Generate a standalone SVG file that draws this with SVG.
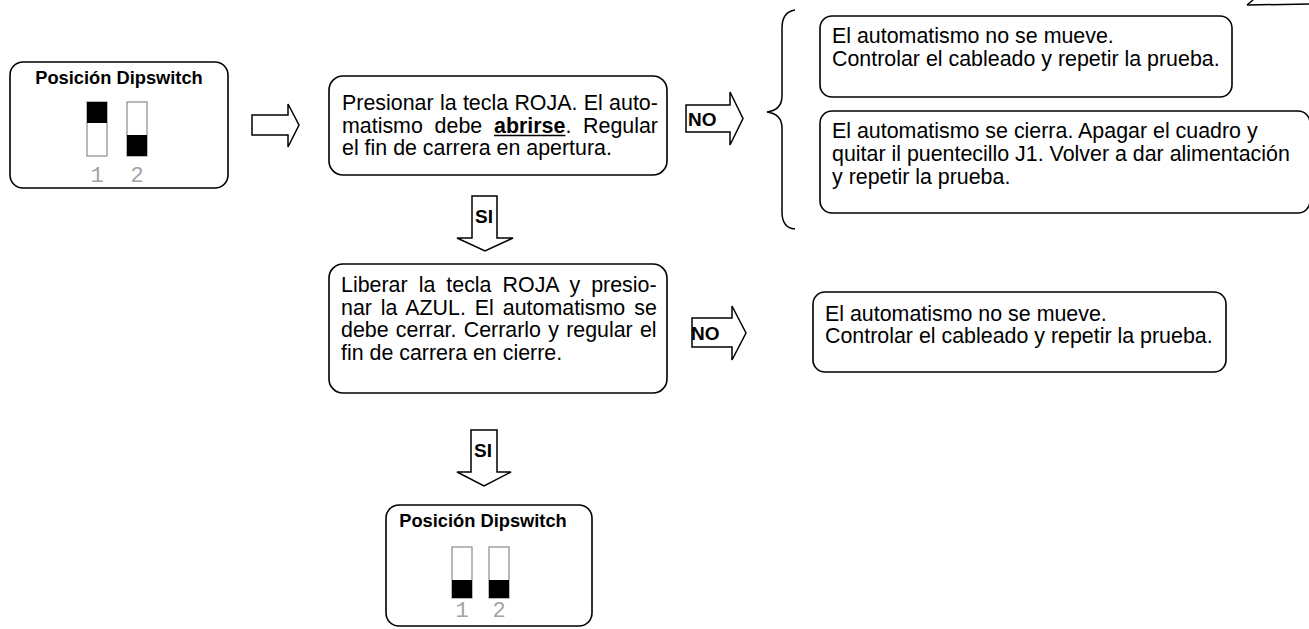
<svg xmlns="http://www.w3.org/2000/svg" width="1309" height="629" viewBox="0 0 1309 629">
  <style>
    .box { fill: #ffffff; stroke: #000000; stroke-width: 1.6; }
    .arrow { fill: #ffffff; stroke: #000000; stroke-width: 1.5; stroke-linejoin: miter; }
    .brace { fill: none; stroke: #000000; stroke-width: 1.5; }
    .txt { font-family: "Liberation Sans", Arial, sans-serif; font-size: 21.4px; fill: #000000; }
    .bold { font-weight: bold; }
    .title { font-family: "Liberation Sans", Arial, sans-serif; font-size: 18.3px; font-weight: bold; fill: #000000; text-anchor: middle; }
    .tag { font-family: "Liberation Sans", Arial, sans-serif; font-size: 19px; font-weight: bold; fill: #000000; }
    .sw { fill: #ffffff; stroke: #8a8a8a; stroke-width: 1.2; }
    .knob { fill: #000000; }
    .num { font-family: "Liberation Mono", "DejaVu Sans Mono", monospace; font-size: 22px; fill: #a3a3a3; text-anchor: middle; }
  </style>

  <!-- dipswitch setting at start: 1 up, 2 down -->
  <g id="dip-start">
    <rect class="box" x="10" y="62" width="218" height="126" rx="13"/>
    <text class="title" x="119" y="84">Posición Dipswitch</text>
    <rect class="sw" x="87" y="102" width="20" height="54"/>
    <rect class="knob" x="87" y="102" width="20" height="21"/>
    <rect class="sw" x="127" y="102" width="20" height="54"/>
    <rect class="knob" x="127" y="135" width="20" height="21"/>
    <text class="num" x="97" y="182">1</text>
    <text class="num" x="137" y="182">2</text>
  </g>

  <!-- step 1: open -->
  <g id="step-open">
    <rect class="box" x="329" y="76" width="338" height="99" rx="14"/>
    <text class="txt" x="342" y="110" word-spacing="0.4">Presionar la tecla ROJA. El auto-</text>
    <text class="txt" x="342" y="132.5">matismo</text>
    <text class="txt" x="434.6" y="132.5">debe</text>
    <text class="txt bold" x="494" y="132.5">abrirse</text>
    <text class="txt" x="565.4" y="132.5">.</text>
    <text class="txt" x="658" y="132.5" text-anchor="end">Regular</text>
    <line x1="494" y1="135.5" x2="565.4" y2="135.5" stroke="#000000" stroke-width="1.6"/>
    <text class="txt" x="342" y="155">el fin de carrera en apertura.</text>
  </g>

  <!-- failure cases after step 1 -->
  <g id="fail-open-still">
    <rect class="box" x="820" y="16" width="412" height="81" rx="12"/>
    <text class="txt" x="832" y="43">El automatismo no se mueve.</text>
    <text class="txt" x="832" y="66">Controlar el cableado y repetir la prueba.</text>
  </g>

  <g id="fail-open-closes">
    <rect class="box" x="820" y="111" width="490" height="102" rx="12"/>
    <text class="txt" x="832" y="138">El automatismo se cierra. Apagar el cuadro y</text>
    <text class="txt" x="832" y="161">quitar il puentecillo J1. Volver a dar alimentación</text>
    <text class="txt" x="832" y="184">y repetir la prueba.</text>
  </g>

  <!-- step 2: close -->
  <g id="step-close">
    <rect class="box" x="329" y="264" width="338" height="129" rx="14"/>
    <text class="txt" x="341" y="292" word-spacing="5.1">Liberar la tecla ROJA y presio-</text>
    <text class="txt" x="341" y="314.5" word-spacing="3">nar la AZUL. El automatismo se</text>
    <text class="txt" x="341" y="337" word-spacing="1.3">debe cerrar. Cerrarlo y regular el</text>
    <text class="txt" x="341" y="359.5">fin de carrera en cierre.</text>
  </g>

  <g id="fail-close-still">
    <rect class="box" x="813" y="292" width="413" height="80" rx="12"/>
    <text class="txt" x="825" y="321">El automatismo no se mueve.</text>
    <text class="txt" x="825" y="343">Controlar el cableado y repetir la prueba.</text>
  </g>

  <!-- final dipswitch setting: both down -->
  <g id="dip-end">
    <rect class="box" x="386" y="505" width="206" height="121" rx="13"/>
    <text class="title" x="483" y="527">Posición Dipswitch</text>
    <rect class="sw" x="452" y="547" width="20" height="51"/>
    <rect class="knob" x="452" y="580" width="20" height="18"/>
    <rect class="sw" x="489" y="547" width="20" height="51"/>
    <rect class="knob" x="489" y="580" width="20" height="18"/>
    <text class="num" x="462" y="617">1</text>
    <text class="num" x="499" y="617">2</text>
  </g>

  <!-- block arrows and brace -->
  <g id="connectors">
    <path class="arrow" d="M252,115 H288 V104 L299,125 L288,147 V135 H252 Z"/>

    <path class="arrow" d="M686,105 H730 V92 L743,118.5 L730,145 V132 H686 Z"/>
    <text class="tag" x="688" y="126">NO</text>

    <path class="arrow" d="M472,196 H497 V238 H513 L485,251 L457,238 H472 Z"/>
    <text class="tag" x="475" y="223">SI</text>

    <path class="arrow" d="M692,318 H732 V306 L746,333 L732,360 V347 H692 Z"/>
    <text class="tag" x="691" y="340">NO</text>

    <path class="arrow" d="M471,430 H497 V472 H511 L484,486 L457,472 H471 Z"/>
    <text class="tag" x="474" y="457">SI</text>

    <path class="brace" d="M795,10 Q782,12 782,28 L782,96 Q782,110 767,112 Q782,114 782,128 L782,212 Q782,228 795,229"/>

    <path class="brace" d="M1247,5 L1253,0 M1247,5 L1309,4"/>
  </g>
</svg>
